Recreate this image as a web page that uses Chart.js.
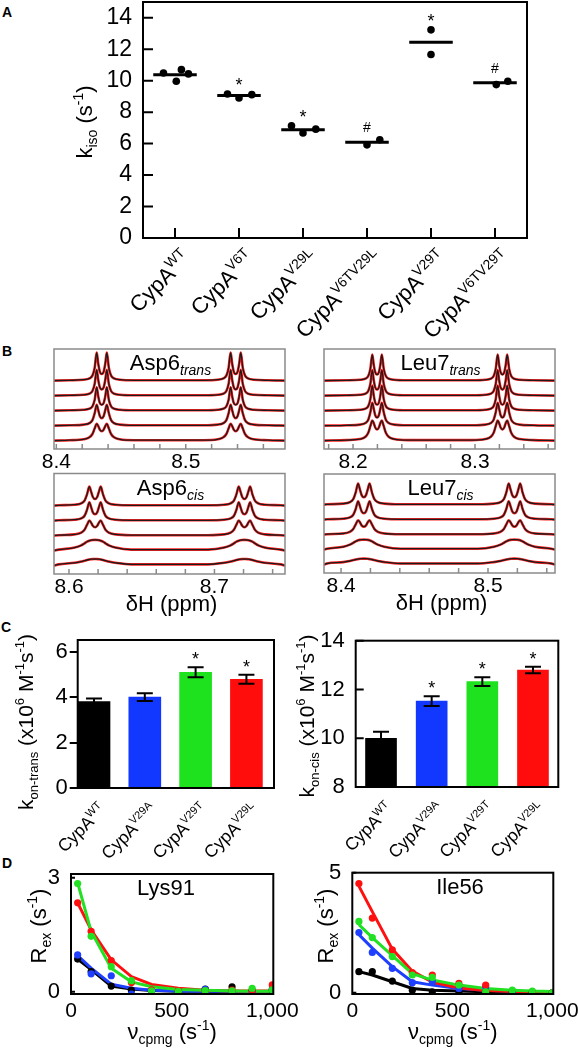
<!DOCTYPE html>
<html>
<head>
<meta charset="utf-8">
<script src="https://cdn.jsdelivr.net/npm/chart.js@4.4.1/dist/chart.umd.min.js"></script>
<style>
html, body { margin: 0; padding: 0; background: #fff; width: 578px; height: 1050px; overflow: hidden; position: relative; }
canvas { position: absolute; }
.tag { position: absolute; font: bold 14px "Liberation Sans", Arial, sans-serif; line-height: 14px; }
</style>
</head>
<body>
<div class="tag" style="left:2px;top:5px">A</div>
<div class="tag" style="left:2px;top:344px">B</div>
<div class="tag" style="left:1px;top:620px">C</div>
<div class="tag" style="left:2px;top:856px">D</div>
<script>
/* ---- A: k_iso per construct (replicates, mean, significance) ---- */
var catsA = ['WT', 'V6T', 'V29L', 'V6TV29L', 'V29T', 'V6TV29T'];
var kisoA = [[10.49, 9.96, 10.70, 10.43], [9.15, 8.90, 9.11], [7.13, 6.67, 6.92], [5.92, 6.24], [13.23, 11.66], [9.75, 9.96]];
var jitterA = [[-0.18, 0.02, 0.10, 0.21], [-0.18, 0, 0.2], [-0.18, 0, 0.2], [0, 0.2], [0, 0], [0.02, 0.2]];
var meanA = [10.38, 9.06, 6.88, 6.09, 12.44, 9.87];
var sigA = ['', '*', '*', '#', '*', '#'];
var ticksA = [0, 2, 4, 6, 8, 10, 12, 14];

/* ---- B: 1H spectra, 5 traces per box (top to bottom), doublet profiles ---- */
var ppmOffsets = [-0.025, -0.014, -0.0095, -0.0072, -0.0055, -0.0039, -0.0027, -0.0015, 0, 0.0015, 0.0027, 0.0039, 0.0055, 0.0072, 0.0095, 0.014, 0.025];

var asp6TransRange = [8.3982, 8.5767];
var asp6TransTicks = [8.40, 8.42, 8.44, 8.46, 8.48, 8.50, 8.52, 8.54, 8.56];
var asp6TransLabels = [8.4, 8.5];
var asp6TransCenters = [8.4351, 8.5386];
var asp6TransTraces = [
  [0.3, 0.9, 2.2, 5.0, 12.5, 28, 16.8, 9.0, 6.6, 9.0, 16.8, 28, 12.5, 5.0, 2.2, 0.9, 0.3],
  [0.3, 0.8, 2.0, 4.6, 11.5, 25.7, 15.5, 8.3, 6.1, 8.3, 15.5, 25.7, 11.5, 4.6, 2.0, 0.8, 0.3],
  [0.3, 0.8, 1.9, 4.3, 10.6, 23.4, 14.2, 7.7, 5.8, 7.7, 14.2, 23.4, 10.6, 4.3, 1.9, 0.8, 0.3],
  [0.3, 1.0, 2.5, 5.5, 12.2, 20.7, 15.4, 9.6, 7.4, 9.6, 15.4, 20.7, 12.2, 5.5, 2.5, 1.0, 0.3],
  [0.4, 1.3, 3.3, 6.6, 12.0, 16.7, 14.5, 11.0, 9.4, 11.0, 14.5, 16.7, 12.0, 6.6, 3.3, 1.3, 0.4]
];

var leu7TransRange = [8.1762, 8.3656];
var leu7TransTicks = [8.18, 8.20, 8.22, 8.24, 8.26, 8.28, 8.30, 8.32, 8.34, 8.36];
var leu7TransLabels = [8.2, 8.3];
var leu7TransCenters = [8.2197, 8.3225];
var leu7TransTraces = [
  [0.3, 0.8, 2.0, 4.6, 11.7, 26, 15.6, 8.4, 6.1, 8.4, 15.6, 26, 11.7, 4.6, 2.0, 0.8, 0.3],
  [0.3, 0.8, 2.0, 4.6, 11.5, 25.5, 15.3, 8.2, 6.0, 8.2, 15.3, 25.5, 11.5, 4.6, 2.0, 0.8, 0.3],
  [0.3, 0.8, 2.0, 4.5, 11.3, 25, 15.0, 8.0, 5.9, 8.0, 15.0, 25, 11.3, 4.5, 2.0, 0.8, 0.3],
  [0.3, 1.0, 2.6, 5.9, 13.2, 22.7, 16.8, 10.4, 8.1, 10.4, 16.8, 22.7, 13.2, 5.9, 2.6, 1.0, 0.3],
  [0.5, 1.5, 3.9, 7.9, 14.4, 20, 17.4, 13.1, 11.1, 13.1, 17.4, 20, 14.4, 7.9, 3.9, 1.5, 0.5]
];

var asp6CisRange = [8.5897, 8.7485];
var asp6CisTicks = [8.60, 8.62, 8.64, 8.66, 8.68, 8.70, 8.72, 8.74];
var asp6CisLabels = [8.6, 8.7];
var asp6CisCenters = [8.6179, 8.7206];
var asp6CisTraces = [
  [0.3, 0.9, 2.3, 5.0, 11.2, 19, 14.0, 8.6, 6.6, 8.6, 14.0, 19, 11.2, 5.0, 2.3, 0.9, 0.3],
  [0.3, 0.9, 2.2, 4.8, 10.8, 18.3, 13.5, 8.3, 6.4, 8.3, 13.5, 18.3, 10.8, 4.8, 2.2, 0.9, 0.3],
  [0.4, 1.2, 2.9, 5.9, 10.8, 15, 13.0, 9.8, 8.3, 9.8, 13.0, 15, 10.8, 5.9, 2.9, 1.2, 0.4],
  [1.0, 3.0, 5.3, 7.3, 8.9, 9.9, 10.4, 10.6, 10.7, 10.6, 10.4, 9.9, 8.9, 7.3, 5.3, 3.0, 1.0],
  [1.2, 2.8, 4.0, 4.9, 5.6, 6.1, 6.4, 6.5, 6.6, 6.5, 6.4, 6.1, 5.6, 4.9, 4.0, 2.8, 1.2]
];

var leu7CisRange = [8.3884, 8.5456];
var leu7CisTicks = [8.40, 8.42, 8.44, 8.46, 8.48, 8.50, 8.52, 8.54];
var leu7CisLabels = [8.4, 8.5];
var leu7CisCenters = [8.4155, 8.518];
var leu7CisTraces = [
  [0.3, 1.0, 2.5, 5.5, 12.3, 21, 15.4, 9.5, 7.3, 9.5, 15.4, 21, 12.3, 5.5, 2.5, 1.0, 0.3],
  [0.3, 0.9, 2.2, 4.8, 10.8, 18.3, 13.5, 8.3, 6.4, 8.3, 13.5, 18.3, 10.8, 4.8, 2.2, 0.9, 0.3],
  [0.4, 1.1, 2.8, 5.6, 10.3, 14.3, 12.4, 9.3, 7.9, 9.3, 12.4, 14.3, 10.3, 5.6, 2.8, 1.1, 0.4],
  [0.9, 2.8, 5.0, 6.8, 8.3, 9.3, 9.7, 9.9, 10, 9.9, 9.7, 9.3, 8.3, 6.8, 5.0, 2.8, 0.9],
  [1.1, 2.5, 3.6, 4.5, 5.1, 5.5, 5.8, 5.9, 6, 5.9, 5.8, 5.5, 5.1, 4.5, 3.6, 2.5, 1.1]
];

/* ---- C: association rate constants ---- */
var catsC = ['WT', 'V29A', 'V29T', 'V29L'];
var colorsC = ['#000000', '#1238ff', '#1fe21f', '#ff0d0d'];
var konTrans = [3.81, 4.0, 5.1, 4.79];
var konTransErr = [0.13, 0.17, 0.22, 0.2];
var konTransSig = ['', '', '*', '*'];
var konTransTicks = [0, 2, 4, 6];
var konCis = [10.0, 11.52, 12.32, 12.8];
var konCisErr = [0.27, 0.2, 0.18, 0.13];
var konCisSig = ['', '*', '*', '*'];
var konCisTicks = [8, 10, 12, 14];

/* ---- D: CPMG relaxation dispersion (order: WT, V29A, V29T, V29L) ---- */
var ncpmg = [33, 100, 200, 300, 400, 533, 667, 800, 900, 1000];
var ncpmgTicks = [0, 500, 1000];
var colorsD = ['#000000', '#1f3fff', '#22e022', '#ff1010'];
var lys91Pts = [
  [0.86, 0.53, 0.15, 0.04, 0.02, 0.01, 0.07, 0.13, 0.03, 0.05],
  [0.97, 0.47, 0.42, -0.06, -0.04, -0.03, 0.06, -0.03, 0.0, 0.07],
  [2.85, 1.46, 0.66, 0.29, 0.02, 0.01, 0.03, 0.02, 0.09, 0.05],
  [2.34, 1.59, 0.82, 0.24, 0.05, 0.03, 0.02, 0.04, 0.03, 0.18]
];
var lys91Fit = [
  [0.86, 0.58, 0.15, 0.07, 0.03, 0.01, 0.01, 0.0, 0.0, 0.0],
  [0.95, 0.62, 0.2, 0.09, 0.04, 0.02, 0.01, 0.01, 0.0, 0.0],
  [2.87, 1.59, 0.62, 0.26, 0.13, 0.06, 0.04, 0.02, 0.01, 0.01],
  [2.34, 1.63, 0.84, 0.40, 0.19, 0.09, 0.04, 0.02, 0.02, 0.02]
];
var lys91Ticks = [0, 3];
var ile56Pts = [
  [0.88, 0.88, 0.49, 0.11, 0.04, 0.03, 0.02, 0.03, 0.02, 0.0],
  [2.51, 1.68, 1.02, 0.42, 0.46, 0.18, 0.25, 0.0, 0.0, 0.0],
  [2.97, 2.3, 1.51, 0.74, 0.64, 0.32, 0.04, 0.11, 0.07, 0.0],
  [4.55, 3.11, 1.79, 0.84, 0.74, 0.39, 0.32, -0.1, 0.03, 0.0]
];
var ile56Fit = [
  [0.88, 0.74, 0.46, 0.18, 0.11, 0.07, 0.04, 0.03, 0.02, 0.01],
  [2.42, 1.86, 1.09, 0.46, 0.32, 0.18, 0.11, 0.06, 0.04, 0.03],
  [2.84, 2.3, 1.55, 0.8, 0.53, 0.32, 0.18, 0.11, 0.07, 0.05],
  [4.44, 3.38, 1.82, 0.9, 0.45, 0.2, 0.1, 0.05, 0.03, 0.02]
];
var ile56Ticks = [0, 5];

/* ------------------------------------------------------------------ */
var FONT = '"Liberation Sans", Arial, Helvetica, sans-serif';
Chart.defaults.font.family = FONT;
Chart.defaults.color = '#000';

var traceBase = 8.4, traceStep = 15;   /* vertical stacking of spectra, in box units */

function makeCanvas(box) {
  var c = document.createElement('canvas');
  c.width = box.w; c.height = box.h;
  c.style.left = box.l + 'px'; c.style.top = box.t + 'px';
  c.style.width = box.w + 'px'; c.style.height = box.h + 'px';
  document.body.appendChild(c);
  return c;
}

function baseOpts(box, fr) {
  return {
    responsive: false, animation: false, devicePixelRatio: 1, events: [],
    layout: { autoPadding: false, padding: { left: 0, bottom: 0, top: fr.t - box.t, right: box.l + box.w - fr.r } },
    plugins: { legend: { display: false }, tooltip: { enabled: false } }
  };
}
function fitW(box, fr) { return function (s) { s.width = fr.l - box.l; }; }
function fitH(box, fr) { return function (s) { s.height = box.t + box.h - fr.b; }; }
function setTicks(arr) { return function (s) { s.ticks = arr.map(function (v) { return { value: v }; }); }; }

function segFont(kind, size) {
  var small = kind.indexOf('sub') >= 0 || kind.indexOf('sup') >= 0;
  var italic = kind.charAt(0) === 'i';
  return (italic ? 'italic ' : '') + (small ? Math.round(size * 0.62) : size) + 'px ' + FONT;
}
function segShift(kind, size) {
  if (kind.indexOf('sup') >= 0) return -size * 0.42;
  if (kind.indexOf('sub') >= 0) return size * 0.24;
  return 0;
}
/* text with sub/superscripts, optionally rotated */
function drawRich(ctx, segs, x, y, size, angle, align) {
  ctx.save();
  ctx.translate(x, y);
  ctx.rotate(angle || 0);
  ctx.fillStyle = '#000';
  ctx.textBaseline = 'alphabetic';
  ctx.textAlign = 'left';
  var total = 0;
  segs.forEach(function (s) { ctx.font = segFont(s[1], size); total += ctx.measureText(s[0]).width; });
  var cx = align === 'right' ? -total : (align === 'center' ? -total / 2 : 0);
  segs.forEach(function (s) {
    ctx.font = segFont(s[1], size);
    ctx.fillText(s[0], cx, segShift(s[1], size));
    cx += ctx.measureText(s[0]).width;
  });
  ctx.restore();
}
function drawSig(ctx, s, x, yc) {
  if (!s) return;
  if (s === '*') drawRich(ctx, [['*', '']], x, yc + 10, 18, 0, 'center');
  else drawRich(ctx, [[s, '']], x, yc + 5, 14, 0, 'center');
}

function framePlugin(o) {
  return {
    id: 'frame',
    afterDraw: function (chart) {
      var a = chart.chartArea, ctx = chart.ctx;
      ctx.save();
      ctx.strokeStyle = o.color; ctx.lineWidth = o.width;
      ctx.beginPath();
      if (o.xTicks) chart.scales.x.ticks.forEach(function (t) {
        var p = chart.scales.x.getPixelForValue(t.value);
        ctx.moveTo(p, a.bottom); ctx.lineTo(p, a.bottom - o.xTicks);
      });
      if (o.yTicks) chart.scales.y.ticks.forEach(function (t) {
        var p = chart.scales.y.getPixelForValue(t.value);
        ctx.moveTo(a.left, p); ctx.lineTo(a.left + o.yTicks, p);
      });
      ctx.stroke();
      ctx.strokeRect(a.left, a.top, a.right - a.left, a.bottom - a.top);
      ctx.restore();
    }
  };
}
/* extra text/marks drawn in page coordinates */
function deco(box, draw) {
  return {
    id: 'deco',
    afterDraw: function (chart) {
      var ctx = chart.ctx;
      ctx.save();
      ctx.translate(-box.l, -box.t);
      var X = function (v) { return chart.scales.x.getPixelForValue(v) + box.l; };
      var Y = function (v) { return chart.scales.y.getPixelForValue(v) + box.t; };
      draw(ctx, X, Y);
      ctx.restore();
    }
  };
}

/* ======================= Panel A ======================= */
var boxA = { l: 0, t: -20, w: 578, h: 360 }, frA = { l: 143, t: 2, r: 527, b: 238 };
var ptsA = [];
kisoA.forEach(function (vals, i) { vals.forEach(function (v, j) { ptsA.push({ x: i + jitterA[i][j], y: v }); }); });
var setsA = [{ data: ptsA, pointRadius: 3.8, pointBackgroundColor: '#000', pointBorderWidth: 0, order: 0 }];
meanA.forEach(function (m, i) {
  setsA.push({ data: [{ x: i - 0.34, y: m }, { x: i + 0.34, y: m }], showLine: true, borderColor: '#000', borderWidth: 3, pointRadius: 0, order: 1 });
});
var optA = baseOpts(boxA, frA);
optA.scales = {
  x: { type: 'linear', min: -0.5, max: 5.5, afterBuildTicks: setTicks(catsA.map(function (c, i) { return i; })),
       ticks: { display: false }, grid: { display: false }, border: { display: false }, afterFit: fitH(boxA, frA) },
  y: { min: 0, max: 15, afterBuildTicks: setTicks(ticksA), ticks: { font: { size: 23 }, padding: 3 },
       grid: { display: false }, border: { display: false }, afterFit: fitW(boxA, frA) }
};
new Chart(makeCanvas(boxA), {
  type: 'scatter',
  data: { datasets: setsA },
  options: optA,
  plugins: [framePlugin({ color: '#000', width: 2, xTicks: 10, yTicks: 10 }), deco(boxA, function (ctx, X, Y) {
    catsA.forEach(function (c, i) {
      drawRich(ctx, [['CypA', ''], [c, 'sup']], X(i) + 17, frA.b + 22, 22, -Math.PI / 4, 'right');
      drawSig(ctx, sigA[i], X(i), Y(Math.max.apply(null, kisoA[i])) - 13);
    });
    drawRich(ctx, [['k', ''], ['iso', 'sub'], [' (s', ''], ['-1', 'sup'], [')', '']], 92, 122, 22, -Math.PI / 2, 'center');
  })]
});

/* ======================= Panel B ======================= */
function spectrumChart(box, fr, range, ticks, labels, centers, traces, title, xTitle) {
  var sets = [];
  traces.forEach(function (tr, k) {
    var base = traceBase + traceStep * (traces.length - 1 - k);
    var pts = [{ x: range[0], y: base }];
    centers.forEach(function (c) {
      ppmOffsets.forEach(function (o, j) { pts.push({ x: c + o, y: base + tr[j] }); });
    });
    pts.push({ x: range[1], y: base });
    sets.push({ data: pts, showLine: true, borderColor: '#1a1a1a', borderWidth: 1.3, pointRadius: 0, cubicInterpolationMode: 'monotone', order: 0 });
    sets.push({ data: pts, showLine: true, borderColor: '#ff2020', borderWidth: 2.6, pointRadius: 0, cubicInterpolationMode: 'monotone', order: 1 });
  });
  var opt = baseOpts(box, fr);
  opt.scales = {
    x: { type: 'linear', min: range[0], max: range[1], afterBuildTicks: setTicks(ticks),
         ticks: { font: { size: 21 }, padding: -7, maxRotation: 0, autoSkip: false,
                  callback: function (v) { return labels.indexOf(+v.toFixed(2)) >= 0 ? v.toFixed(1) : ''; } },
         grid: { display: false }, border: { display: false }, afterFit: fitH(box, fr) },
    y: { min: 0, max: fr.b - fr.t, ticks: { display: false }, grid: { display: false }, border: { display: false }, afterFit: fitW(box, fr) }
  };
  new Chart(makeCanvas(box), {
    type: 'scatter',
    data: { datasets: sets },
    options: opt,
    plugins: [framePlugin({ color: '#8a8a8a', width: 1.5, xTicks: 5 }), deco(box, function (ctx) {
      drawRich(ctx, [[title[0], ''], [title[1], 'isub']], (fr.l + fr.r) / 2 + 1, fr.t + 21, 22, 0, 'center');
      if (xTitle) drawRich(ctx, [['\u03b4H (ppm)', '']], (fr.l + fr.r) / 2 + 2, fr.b + 37, 22, 0, 'center');
    })]
  });
}
spectrumChart({ l: 20, t: 330, w: 285, h: 150 }, { l: 54, t: 349, r: 285, b: 449 }, asp6TransRange, asp6TransTicks, asp6TransLabels, asp6TransCenters, asp6TransTraces, ['Asp6', 'trans'], false);
spectrumChart({ l: 290, t: 330, w: 288, h: 150 }, { l: 324, t: 349, r: 555, b: 449 }, leu7TransRange, leu7TransTicks, leu7TransLabels, leu7TransCenters, leu7TransTraces, ['Leu7', 'trans'], false);
spectrumChart({ l: 20, t: 455, w: 285, h: 165 }, { l: 54, t: 473.5, r: 285, b: 574 }, asp6CisRange, asp6CisTicks, asp6CisLabels, asp6CisCenters, asp6CisTraces, ['Asp6', 'cis'], true);
spectrumChart({ l: 290, t: 455, w: 288, h: 165 }, { l: 324, t: 474, r: 555, b: 573 }, leu7CisRange, leu7CisTicks, leu7CisLabels, leu7CisCenters, leu7CisTraces, ['Leu7', 'cis'], true);

/* ======================= Panel C ======================= */
function barChart(box, fr, xRange, vals, errs, sigs, ticks, yMax, outerTicks, titleSegs, titleX, titleY, barW) {
  var opt = baseOpts(box, fr);
  opt.scales = {
    x: { type: 'linear', offset: false, min: xRange[0], max: xRange[1], afterBuildTicks: setTicks(catsC.map(function (c, i) { return i; })),
         ticks: { display: false }, grid: { display: false, offset: false }, border: { display: false }, afterFit: fitH(box, fr) },
    y: { min: ticks[0], max: yMax, afterBuildTicks: setTicks(ticks), ticks: { font: { size: 22 }, padding: outerTicks ? 2 : 3 },
         grid: outerTicks ? { display: true, drawOnChartArea: false, drawTicks: true, tickLength: 8, color: '#000', lineWidth: 2 } : { display: false },
         border: { display: false }, afterFit: fitW(box, fr) }
  };
  new Chart(makeCanvas(box), {
    type: 'bar',
    data: { datasets: [{ data: vals.map(function (v, i) { return { x: i, y: v }; }), backgroundColor: colorsC, borderWidth: 0, barThickness: barW }] },
    options: opt,
    plugins: [framePlugin({ color: '#000', width: 2, yTicks: outerTicks ? 0 : 8 }), deco(box, function (ctx, X, Y) {
      ctx.strokeStyle = '#000'; ctx.lineWidth = 2;
      vals.forEach(function (v, i) {
        var x = X(i), yt = Y(v + errs[i]), yb = Y(v - errs[i]);
        ctx.beginPath();
        ctx.moveTo(x, yt); ctx.lineTo(x, yb);
        ctx.moveTo(x - 8, yt); ctx.lineTo(x + 8, yt);
        ctx.moveTo(x - 8, yb); ctx.lineTo(x + 8, yb);
        ctx.stroke();
        drawSig(ctx, sigs[i], x, yt - 12);
        drawRich(ctx, [['CypA', ''], [catsC[i], 'sup']], x + 13, fr.b + 23, 17.5, -Math.PI / 4, 'right');
      });
      drawRich(ctx, titleSegs, titleX, titleY, 21, -Math.PI / 2, 'center');
    })]
  });
}
barChart({ l: 0, t: 620, w: 290, h: 250 }, { l: 77.7, t: 640, r: 274, b: 788 }, [-0.321, 3.543], konTrans, konTransErr, konTransSig, konTransTicks, 6.52, true,
  [['k', ''], ['on-trans', 'sub'], [' (x10', ''], ['6', 'sup'], [' M', ''], ['-1', 'sup'], ['s', ''], ['-1', 'sup'], [')', '']], 33, 722, 32);
barChart({ l: 290, t: 620, w: 288, h: 250 }, { l: 355.7, t: 640.7, r: 558.3, b: 787 }, [-0.5, 3.5], konCis, konCisErr, konCisSig, konCisTicks, 14, false,
  [['k', ''], ['on-cis', 'sub'], [' (x10', ''], ['6', 'sup'], [' M', ''], ['-1', 'sup'], ['s', ''], ['-1', 'sup'], [')', '']], 314, 716, 31);

/* ======================= Panel D ======================= */
var layerD = [3, 2, 0, 1];
function rexChart(box, fr, yRange, yTicks, pts, fits, name, nameX, titleX) {
  var sets = [];
  colorsD.forEach(function (col, k) {
    sets.push({ data: ncpmg.map(function (x, i) { return { x: x, y: pts[k][i] }; }), pointRadius: 3.6, pointBackgroundColor: col, pointBorderWidth: 0, order: layerD[k] });
    sets.push({ data: ncpmg.map(function (x, i) { return { x: x, y: fits[k][i] }; }), showLine: true, borderColor: col, borderWidth: 3, pointRadius: 0, order: 10 + layerD[k] });
  });
  var opt = baseOpts(box, fr);
  opt.scales = {
    x: { type: 'linear', min: 0, max: 1005, afterBuildTicks: setTicks(ncpmgTicks),
         ticks: { font: { size: 21 }, padding: -3, maxRotation: 0, autoSkip: false, callback: function (v) { return v.toLocaleString('en-US'); } },
         grid: { display: false }, border: { display: false }, afterFit: fitH(box, fr) },
    y: { min: yRange[0], max: yRange[1], afterBuildTicks: setTicks(yTicks), ticks: { font: { size: 22 }, padding: 3 },
         grid: { display: false }, border: { display: false }, afterFit: fitW(box, fr) }
  };
  new Chart(makeCanvas(box), {
    type: 'scatter',
    data: { datasets: sets },
    options: opt,
    plugins: [framePlugin({ color: '#000', width: 2, yTicks: 4 }), deco(box, function (ctx) {
      drawRich(ctx, [[name, '']], nameX, fr.t + 21, 22, 0, 'center');
      drawRich(ctx, [['R', ''], ['ex', 'sub'], [' (s', ''], ['-1', 'sup'], [')', '']], titleX, 926, 22, -Math.PI / 2, 'center');
      drawRich(ctx, [['\u03bd', ''], ['cpmg', 'sub'], [' (s', ''], ['-1', 'sup'], [')', '']], (fr.l + fr.r) / 2, 1039, 22, 0, 'center');
    })]
  });
}
rexChart({ l: 0, t: 855, w: 310, h: 195 }, { l: 71, t: 874, r: 273.3, b: 994 }, [-0.06, 3.1], lys91Ticks, lys91Pts, lys91Fit, 'Lys91', 166, 46);
rexChart({ l: 290, t: 855, w: 300, h: 195 }, { l: 352.3, t: 872.7, r: 553.3, b: 994 }, [-0.05, 5], ile56Ticks, ile56Pts, ile56Fit, 'Ile56', 460, 333);
</script>
</body>
</html>
